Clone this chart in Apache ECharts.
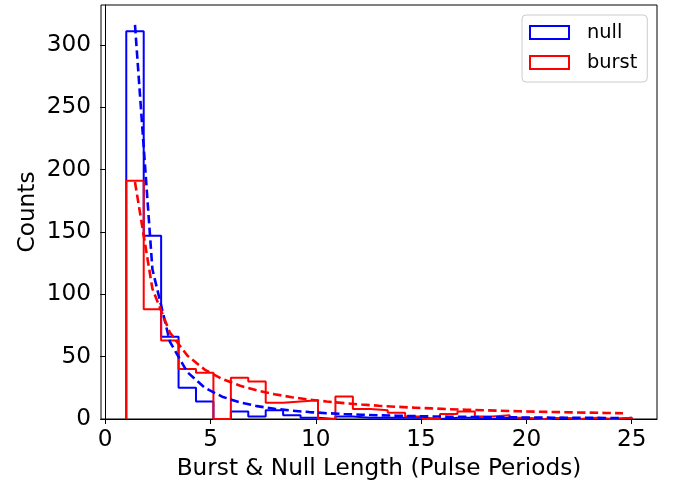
<!DOCTYPE html>
<html><head><meta charset="utf-8">
<script src="https://cdn.jsdelivr.net/npm/echarts@6/dist/echarts.min.js"></script>
<style>html,body{margin:0;padding:0;background:#fff}#c{width:676px;height:483px}</style>
</head><body><div id="c"></div>
<script>
const binEdges = [1, 1.828, 2.655, 3.483, 4.310, 5.138, 5.966, 6.793, 7.621, 8.448, 9.276, 10.103, 10.931, 11.759, 12.586, 13.414, 14.241, 15.069, 15.897, 16.724, 17.552, 18.379, 19.207, 20.034, 20.862, 21.690, 22.517, 23.345, 24.172, 25.0];
const binCenters = [1.414, 2.241, 3.069, 3.897, 4.724, 5.552, 6.379, 7.207, 8.034, 8.862, 9.690, 10.517, 11.345, 12.172, 13.000, 13.828, 14.655, 15.483, 16.310, 17.138, 17.966, 18.793, 19.621, 20.448, 21.276, 22.103, 22.931, 23.759, 24.586];
const nullCounts = [311, 147, 66, 25, 14, 0, 6, 2, 7, 3, 1, 0, 2, 1, 1, 1, 1, 0, 1, 1, 0, 1, 0, 0, 1, 0, 0, 0, 1];
const burstCounts = [191, 88, 63, 40, 37, 0, 33, 30, 13, 14, 15, 0, 18, 8, 7, 5, 2, 0, 4, 6, 2, 3, 1, 0, 1, 0, 1, 0, 1];
const nullFit = [316, 120.1, 62.1, 37.6, 25.1, 17.9, 13.4, 10.3, 8.2, 6.7, 5.55, 4.67, 3.98, 3.44, 3.0, 2.63, 2.33, 2.08, 1.86, 1.68, 1.52, 1.38, 1.26, 1.16, 1.06, 0.98, 0.91, 0.85, 0.79];
const burstFit = [190, 104.4, 69.4, 50.9, 39.6, 32.1, 26.8, 22.9, 19.9, 17.5, 15.6, 14.0, 12.7, 11.6, 10.6, 9.8, 9.1, 8.5, 7.9, 7.4, 7.0, 6.6, 6.2, 5.9, 5.6, 5.3, 5.1, 4.85, 4.6];
const xTicks = [0, 5, 10, 15, 20, 25];
const yTicks = [0, 50, 100, 150, 200, 250, 300];
const seriesNames = ['null', 'burst'];
const xLabel = 'Burst & Null Length (Pulse Periods)';
const yLabel = 'Counts';

function stepData(edges, counts) {
  const d = [[edges[0], 0]];
  for (let i = 0; i < counts.length; i++) {
    d.push([edges[i], counts[i]]);
    d.push([edges[i + 1], counts[i]]);
  }
  d.push([edges[edges.length - 1], 0]);
  return d;
}
function pairs(xs, ys) { return xs.map((x, i) => [x, ys[i]]); }

const FONT = 'DejaVu Sans';
const FS = 23.2;
const BLUE = '#0000ff', RED = '#ff0000';
const frameIcon = 'path://M0,0H41V15H0Z M2,2V13H39V2Z';

const chart = echarts.init(document.getElementById('c'), null, {renderer: 'canvas'});
chart.setOption({
  animation: false,
  backgroundColor: '#ffffff',
  grid: {left: 101, top: 5, width: 556, height: 414, show: true, borderColor: '#000', borderWidth: 1,
         backgroundColor: 'transparent', containLabel: false, outerBoundsMode: 'none'},
  xAxis: {
    type: 'value', min: -0.2, max: 26.2,
    name: xLabel, nameLocation: 'middle', nameGap: 38, nameMoveOverlap: false,
    nameTextStyle: {fontFamily: FONT, fontSize: FS, color: '#000'},
    axisLine: {show: true, onZero: false, lineStyle: {color: '#000', width: 1}},
    axisTick: {show: true, inside: false, length: 5, lineStyle: {color: '#000', width: 1}, customValues: xTicks},
    axisLabel: {fontFamily: FONT, fontSize: FS, color: '#000', margin: 9, customValues: xTicks},
    splitLine: {show: false}
  },
  yAxis: {
    type: 'value', min: 0, max: 332,
    name: yLabel, nameLocation: 'middle', nameGap: 62, nameRotate: 90, nameMoveOverlap: false,
    nameTextStyle: {fontFamily: FONT, fontSize: FS, color: '#000'},
    axisLine: {show: true, lineStyle: {color: '#000', width: 1}},
    axisTick: {show: true, inside: false, length: 5, lineStyle: {color: '#000', width: 1}, customValues: yTicks},
    axisLabel: {fontFamily: FONT, fontSize: FS, color: '#000', margin: 10, customValues: yTicks},
    splitLine: {show: false}
  },
  legend: {
    orient: 'vertical', left: 522, top: 15,
    padding: [8, 10, 10, 7], itemGap: 11,
    itemWidth: 41, itemHeight: 15,
    backgroundColor: '#fff', borderColor: '#cccccc', borderWidth: 1, borderRadius: 4,
    textStyle: {fontFamily: FONT, fontSize: 19.4, color: '#000', padding: [0, 0, 0, 12]},
    data: [
      {name: seriesNames[0], icon: frameIcon, itemStyle: {color: BLUE}},
      {name: seriesNames[1], icon: frameIcon, itemStyle: {color: RED}}
    ]
  },
  series: [
    {name: seriesNames[0], type: 'line', data: stepData(binEdges, nullCounts), showSymbol: false, symbol: 'none',
     lineStyle: {color: BLUE, width: 2}, itemStyle: {color: BLUE}, z: 2},
    {name: seriesNames[1], type: 'line', data: stepData(binEdges, burstCounts), showSymbol: false, symbol: 'none',
     lineStyle: {color: RED, width: 2}, itemStyle: {color: RED}, z: 3},
    {name: 'nullFit', type: 'line', data: pairs(binCenters, nullFit), showSymbol: false, symbol: 'none',
     lineStyle: {color: BLUE, width: 2.6, type: [8.5, 4.2]}, z: 4},
    {name: 'burstFit', type: 'line', data: pairs(binCenters, burstFit), showSymbol: false, symbol: 'none',
     lineStyle: {color: RED, width: 2.6, type: [8.5, 4.2]}, z: 5}
  ]
});
</script>
</body></html>
